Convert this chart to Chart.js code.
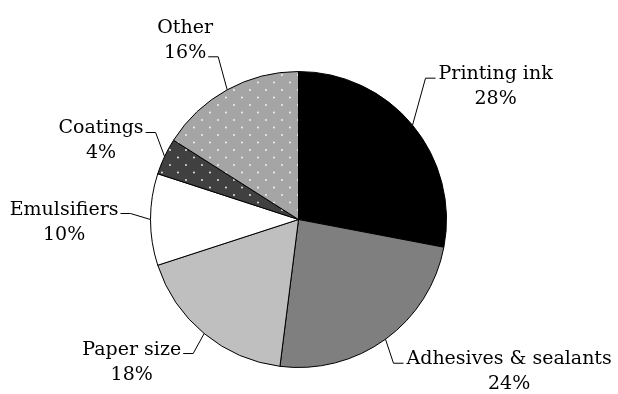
<!DOCTYPE html>
<html><head><meta charset="utf-8">
<script src="https://cdn.jsdelivr.net/npm/chart.js@4"></script>
<style>html,body{margin:0;padding:0;background:#fff}#wrap{width:618px;height:394px}</style>
</head><body><div id="wrap"><canvas id="c" width="618" height="394"></canvas></div>
<script>
// ---- data ----
const categories = ['Printing ink', 'Adhesives & sealants', 'Paper size', 'Emulsifiers', 'Coatings', 'Other'];
const shares = [28, 24, 18, 10, 4, 16];
const shareLabels = ['28%', '24%', '18%', '10%', '4%', '16%'];

// ---- label layout (offsets from each slice's outer mid-point to leader elbow) ----
const leaderOffsets = [[13, -47], [8, 24], [-11, 20], [-20, -6], [-9, -24], [-9, -33]];
const leaderAttachLine = [0, 0, 0, 0, 0, 1];

function dotPattern(bg) {
  const t = document.createElement('canvas');
  t.width = 16; t.height = 15;
  const g = t.getContext('2d');
  g.fillStyle = bg; g.fillRect(0, 0, 16, 15);
  g.fillStyle = 'rgba(255,255,255,0.95)';
  g.beginPath(); g.arc(2, 7.5, 0.9, 0, Math.PI * 2); g.fill();
  g.beginPath(); g.arc(10, 0, 0.9, 0, Math.PI * 2); g.fill();
  g.beginPath(); g.arc(10, 15, 0.9, 0, Math.PI * 2); g.fill();
  return document.getElementById('c').getContext('2d').createPattern(t, 'repeat');
}

const fills = ['#000000', '#7f7f7f', '#bfbfbf', '#ffffff', dotPattern('#404040'), dotPattern('#a5a5a5')];

const FONT = '19px "DejaVu Serif"';
const LINE_H = 25;

const leaderLabels = {
  id: 'leaderLabels',
  afterDatasetsDraw(chart) {
    const ctx = chart.ctx;
    const meta = chart.getDatasetMeta(0);
    ctx.save();
    ctx.font = FONT;
    ctx.fillStyle = '#000';
    ctx.strokeStyle = '#000';
    ctx.lineWidth = 1;
    meta.data.forEach((arc, i) => {
      const p = arc.getProps(['x', 'y', 'startAngle', 'endAngle', 'outerRadius'], true);
      const mid = (p.startAngle + p.endAngle) / 2;
      const sx = p.x + p.outerRadius * Math.cos(mid);
      const sy = p.y + p.outerRadius * Math.sin(mid);
      const ex = sx + leaderOffsets[i][0];
      const ey = sy + leaderOffsets[i][1];
      const dir = leaderOffsets[i][0] > 0 ? 1 : -1;
      const hx = ex + dir * 10;
      ctx.beginPath();
      ctx.moveTo(sx, sy); ctx.lineTo(ex, ey); ctx.lineTo(hx, ey);
      ctx.stroke();
      const lines = [categories[i], shareLabels[i]];
      const a = leaderAttachLine[i];
      const wA = ctx.measureText(lines[a]).width;
      const cx = dir > 0 ? hx + 3 + wA / 2 : hx - 2 - wA / 2;
      const baseA = ey + 1;
      ctx.textAlign = 'center';
      ctx.textBaseline = 'alphabetic';
      lines.forEach((ln, k) => {
        ctx.fillText(ln, cx, baseA + (k - a) * LINE_H);
      });
    });
    ctx.restore();
  }
};

new Chart(document.getElementById('c'), {
  type: 'pie',
  data: {
    labels: categories,
    datasets: [{
      data: shares,
      backgroundColor: fills,
      borderColor: '#000',
      borderWidth: 1,
      hoverOffset: 0
    }]
  },
  options: {
    responsive: false,
    animation: false,
    layout: { padding: { left: 150, right: 171, top: 71, bottom: 26 } },
    plugins: { legend: { display: false }, tooltip: { enabled: false } },
    events: []
  },
  plugins: [leaderLabels]
});
</script>
</body></html>
